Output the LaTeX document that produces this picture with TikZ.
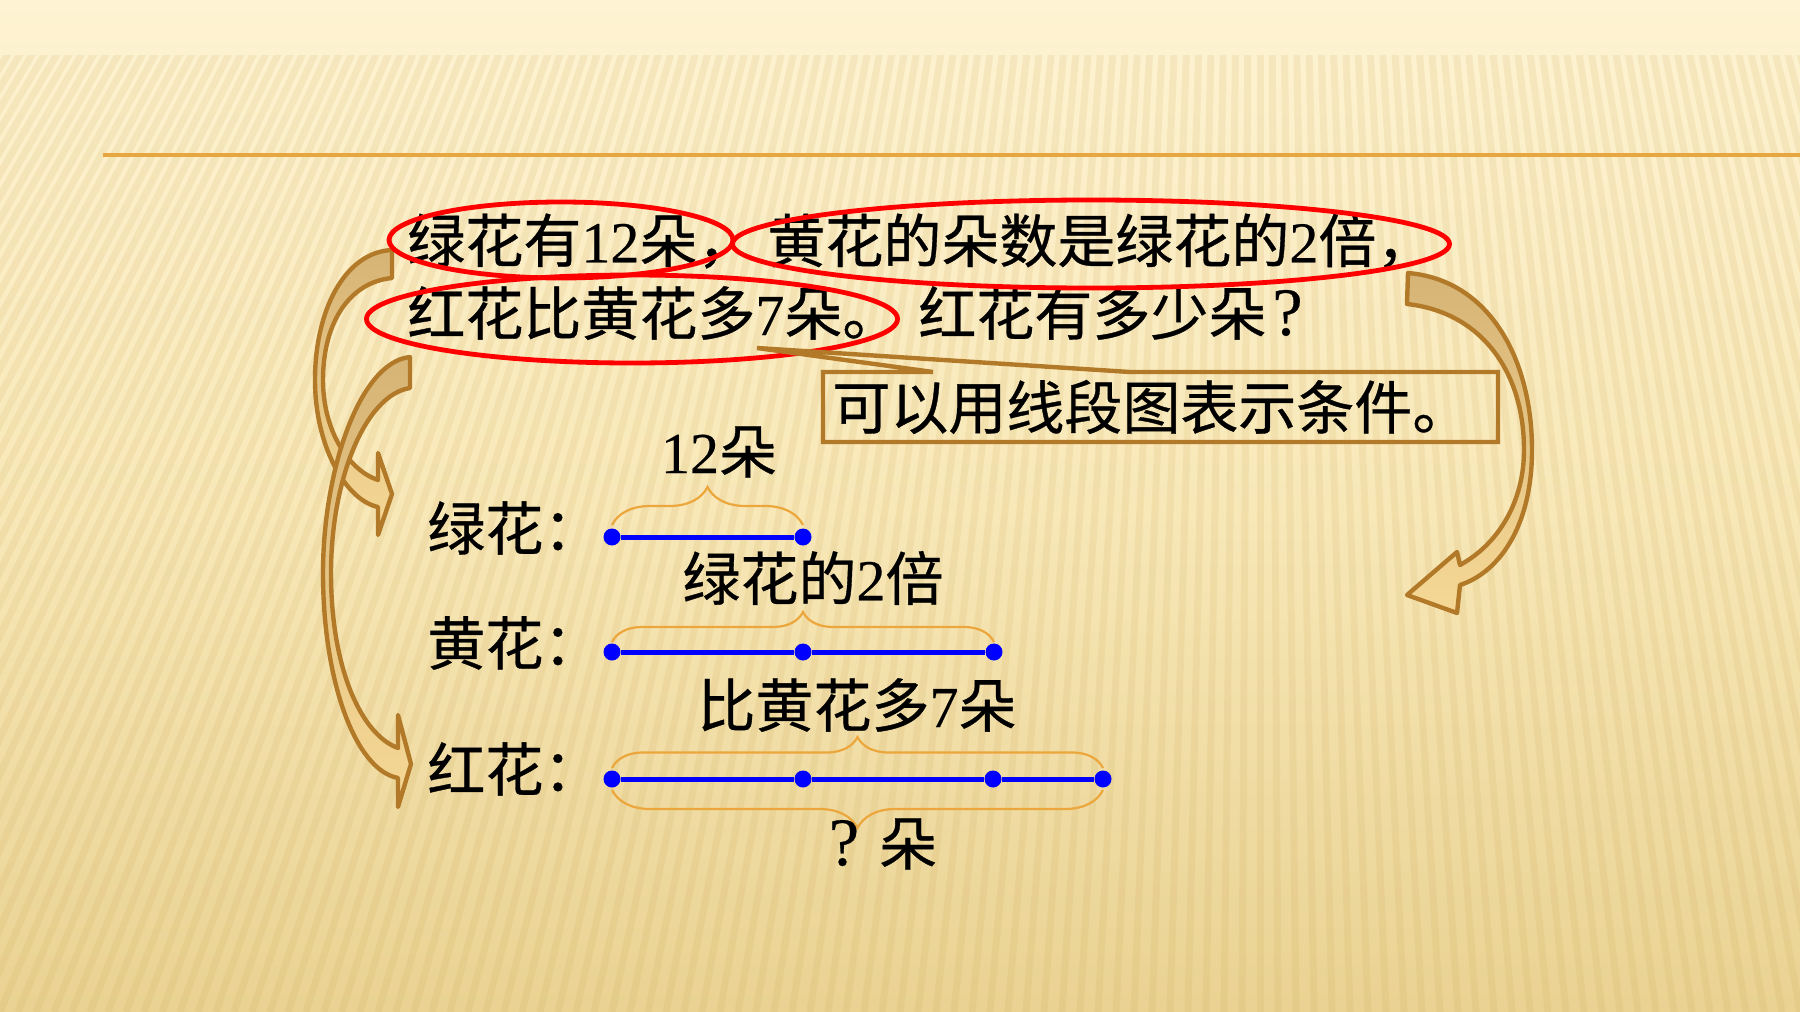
\documentclass[tikz,border=0pt]{standalone}
\usepackage{fontspec}
\setmainfont[FakeBold=0.6]{Noto Sans CJK SC}
\newfontfamily\lat[FakeBold=0.4]{Liberation Serif}
\usetikzlibrary{shapes.geometric,decorations.pathreplacing}
\definecolor{bgtop}{RGB}{254,243,210}
\definecolor{bgmid}{RGB}{248,232,184}
\definecolor{bgbot}{RGB}{233,210,146}
\definecolor{stripe}{RGB}{205,168,90}
\definecolor{rulec}{RGB}{232,166,64}
\definecolor{brownc}{RGB}{178,122,40}
\definecolor{arrowdark}{RGB}{214,180,118}
\definecolor{arrowlight}{RGB}{246,216,150}
\definecolor{bracec}{RGB}{236,166,60}
\definecolor{segblue}{RGB}{0,0,255}
\tikzset{
  txt/.style={font=\fontsize{29pt}{31pt}\selectfont, inner sep=0pt},
  ring/.style={draw=red, line width=2.4pt, ellipse, inner sep=0pt},
  dot/.style={circle, fill=segblue, inner sep=0pt, minimum size=8.5pt},
  seg/.style={draw=segblue, line width=2.5pt},
  brc/.style={draw=bracec, line width=1.1pt, decorate},
  blockarrow/.style={draw=brownc, line width=2.2pt, line join=round, top color=arrowdark, bottom color=arrowlight},
  calloutline/.style={draw=brownc, line width=2.2pt, line join=miter}
}
\begin{document}
\begin{tikzpicture}[x=0.5pt, y=-0.5pt]
\useasboundingbox (0,0) rectangle (1800,1012);
% background
\shade[top color=bgtop, bottom color=bgbot, middle color=bgmid] (0,0) rectangle (1800,1012);
\begin{scope}
  \clip (0,55) rectangle (1800,1012);
  \foreach \i in {-106,...,52} {
    \draw[stripe, opacity=0.15, line width=3.5pt] (1260,-2000) -- ({1260+\i*18},1012);
  }
\end{scope}
% top rule
\draw[rulec, line width=1.6pt] (103,155) -- (1800,155);

% curved block arrows
\path[blockarrow] (392,250) .. controls (345,252) and (315,310) .. (315,380)
  .. controls (315,445) and (345,500) .. (378,507)
  -- (378,535) -- (392,494) -- (378,453) -- (378,480)
  .. controls (348,470) and (323,430) .. (323,380)
  .. controls (323,322) and (350,282) .. (392,278) -- cycle;
\path[blockarrow] (410,357) .. controls (360,362) and (323,470) .. (323,573)
  .. controls (323,680) and (355,770) .. (398,778)
  -- (398,807) -- (411,764) -- (398,715) -- (398,748)
  .. controls (362,735) and (331,670) .. (331,573)
  .. controls (331,480) and (365,395) .. (410,388) -- cycle;
\path[blockarrow] (1408,273) .. controls (1490,280) and (1532,360) .. (1532,450)
  .. controls (1532,525) and (1500,572) .. (1460,585)
  -- (1457,613) -- (1407,595) -- (1457,552) -- (1460,565)
  .. controls (1500,543) and (1524,500) .. (1524,450)
  .. controls (1524,370) and (1480,312) .. (1407,304) -- cycle;

% question text
\node[txt, anchor=west] (l1a) at (407,241) {绿花有{\lat 12}朵，};
\node[txt, anchor=west] (l1b) at (767,241) {黄花的朵数是绿花的{\lat 2}倍，};
\node[txt, anchor=west] (l2a) at (407,313) {红花比黄花多{\lat 7}朵。};
\node[txt, anchor=west] (l2b) at (918,313) {红花有多少朵\hspace{3pt}{\lat\fontsize{34pt}{36pt}\selectfont ?}};

% red ellipses
\node[ring, minimum width=172pt, minimum height=38pt] (e1) at (561,240) {};
\node[ring, minimum width=358.5pt, minimum height=44pt] (e2) at (1091,244) {};
\node[ring, minimum width=265.5pt, minimum height=44pt] (e3) at (632,319) {};

% callout
\coordinate (ctip) at (757,348);
\node[txt, anchor=west] (hint) at (832,407) {可以用线段图表示条件。};
\draw[calloutline] (823,372) -- (933,372) -- (ctip) -- (1130,372) -- (1498,372)
  -- (1498,442) -- (823,442) -- cycle;

% row labels
\node[txt, anchor=west] (lg) at (427,528) {绿花：};
\node[txt, anchor=west] (ly) at (427,643) {黄花：};
\node[txt, anchor=west] (lr) at (427,769) {红花：};

% segments
\node[dot] (g0) at (612,537) {};
\node[dot] (g1) at (803,537) {};
\node[dot] (y0) at (612,652) {};
\node[dot] (y1) at (803,652) {};
\node[dot] (y2) at (994,652) {};
\node[dot] (r0) at (612,779) {};
\node[dot] (r1) at (803,779) {};
\node[dot] (r2) at (993,779) {};
\node[dot] (r3) at (1103,779) {};
\draw[seg] (g0) -- (g1);
\draw[seg] (y0) -- (y1) -- (y2);
\draw[seg] (r0) -- (r1) -- (r2) -- (r3);

% braces
\draw[brc, decoration={brace, amplitude=19pt, raise=6pt}] (g0.center) -- (g1.center);
\draw[brc, decoration={brace, amplitude=15pt, raise=5pt}] (y0.center) -- (y2.center);
\draw[brc, decoration={brace, amplitude=15.5pt, raise=5.5pt}] (r0.center) -- (r3.center);
\draw[brc, decoration={brace, amplitude=19pt, raise=5.5pt}] (r3.center) -- (r0.center);

% brace labels
\node[txt] (t12) at (719,452) {{\lat 12}朵};
\node[txt] (t2b) at (813,578) {绿花的{\lat 2}倍};
\node[txt] (t7) at (857,705) {比黄花多{\lat 7}朵};
\node[txt] (tq) at (883,844) {{\lat\fontsize{34pt}{36pt}\selectfont ?}\hspace{10pt}朵};
\end{tikzpicture}
\end{document}
